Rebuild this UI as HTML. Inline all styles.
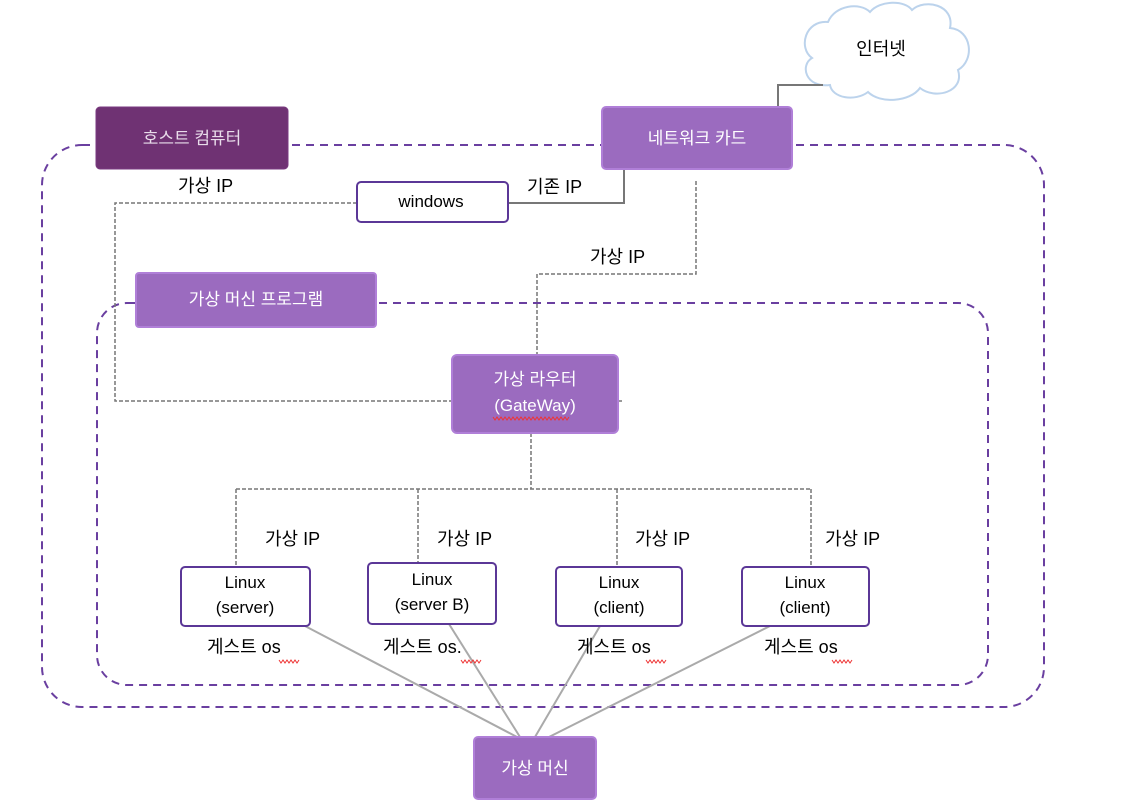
<!DOCTYPE html>
<html><head><meta charset="utf-8"><style>
html,body{margin:0;padding:0;background:#fff;}
svg text{font-family:"Liberation Sans","Noto Sans CJK KR",sans-serif;}
</style></head><body>
<svg width="1142" height="804" viewBox="0 0 1142 804" xmlns="http://www.w3.org/2000/svg">
<!-- cloud -->
<path d="M830,85 C805,88 800,65 812,58 C798,48 805,20 828,22 C835,5 860,2 870,12 C880,0 905,0 912,10 C925,-2 955,5 950,28 C972,30 975,60 958,70 C965,92 935,100 920,88 C910,102 880,104 868,92 C855,102 832,98 830,85 Z" fill="#fff" stroke="#bcd3ec" stroke-width="2"/>
<text x="881" y="55" font-size="18" text-anchor="middle" fill="#000">인터넷</text>
<!-- solid gray connectors -->
<polyline points="778,107 778,85 823,85" fill="none" stroke="#777" stroke-width="2"/>
<polyline points="624,169 624,203 508,203" fill="none" stroke="#777" stroke-width="2"/>
<!-- outer dashed containers -->
<rect x="42" y="145" width="1002" height="562" rx="40" fill="none" stroke="#6a3fa0" stroke-width="2" stroke-dasharray="8,6"/>
<rect x="97" y="303" width="891" height="382" rx="30" fill="none" stroke="#6a3fa0" stroke-width="2" stroke-dasharray="8,6"/>
<!-- gray dashed -->
<g fill="none" stroke="#777" stroke-width="1.5" stroke-dasharray="4,2">
<polyline points="357,203 115,203 115,401 452,401"/>
<line x1="618" y1="401" x2="622" y2="401"/>
<polyline points="696,181 696,274 537,274 537,355"/>
<line x1="531" y1="433" x2="531" y2="489"/>
<line x1="236" y1="489" x2="811" y2="489"/>
<line x1="236" y1="489" x2="236" y2="567"/>
<line x1="418" y1="489" x2="418" y2="563"/>
<line x1="617" y1="489" x2="617" y2="567"/>
<line x1="811" y1="489" x2="811" y2="567"/>
</g>
<!-- boxes -->
<rect x="96" y="107" width="192" height="62" rx="4" fill="#6f3273" stroke="#7a3a80"/>
<text x="192" y="144" font-size="17" fill="#e8dcea" text-anchor="middle">호스트 컴퓨터</text>
<rect x="602" y="107" width="190" height="62" rx="4" fill="#9b6bbf" stroke="#b07fd8" stroke-width="2"/>
<text x="697" y="144" font-size="17" fill="#fff" text-anchor="middle">네트워크 카드</text>
<rect x="357" y="182" width="151" height="40" rx="4" fill="#fff" stroke="#5b3797" stroke-width="2"/>
<text x="431" y="207" font-size="17" text-anchor="middle">windows</text>
<rect x="136" y="273" width="240" height="54" rx="3" fill="#9b6bbf" stroke="#b07fd8" stroke-width="2"/>
<text x="256" y="305" font-size="17" fill="#fff" text-anchor="middle">가상 머신 프로그램</text>
<rect x="452" y="355" width="166" height="78" rx="5" fill="#9b6bbf" stroke="#b07fd8" stroke-width="2"/>
<text x="535" y="385" font-size="17" fill="#fff" text-anchor="middle">가상 라우터</text>
<text x="535" y="411" font-size="17" fill="#fff" text-anchor="middle">(GateWay)</text>
<path d="M493,417 l2,3 l2,-3 l2,3 l2,-3 l2,3 l2,-3 l2,3 l2,-3 l2,3 l2,-3 l2,3 l2,-3 l2,3 l2,-3 l2,3 l2,-3 l2,3 l2,-3 l2,3 l2,-3 l2,3 l2,-3 l2,3 l2,-3 l2,3 l2,-3 l2,3 l2,-3 l2,3 l2,-3 l2,3 l2,-3 l2,3 l2,-3 l2,3 l2,-3 l2,3 l2,-3" fill="none" stroke="#e33" stroke-width="1"/>
<!-- gray solid to VM -->
<g stroke="#aaa" stroke-width="2">
<line x1="305" y1="626" x2="517" y2="737"/>
<line x1="449" y1="624" x2="520" y2="737"/>
<line x1="600" y1="626" x2="535" y2="737"/>
<line x1="770" y1="626" x2="549" y2="737"/>
</g>
<g fill="#fff" stroke="#5b3797" stroke-width="2">
<rect x="181" y="567" width="129" height="59" rx="4"/>
<rect x="368" y="563" width="128" height="61" rx="4"/>
<rect x="556" y="567" width="126" height="59" rx="4"/>
<rect x="742" y="567" width="127" height="59" rx="4"/>
</g>
<g font-size="17" text-anchor="middle">
<text x="245" y="588">Linux</text><text x="245" y="613">(server)</text>
<text x="432" y="585">Linux</text><text x="432" y="610">(server B)</text>
<text x="619" y="588">Linux</text><text x="619" y="613">(client)</text>
<text x="805" y="588">Linux</text><text x="805" y="613">(client)</text>
</g>
<rect x="474" y="737" width="122" height="62" rx="4" fill="#9b6bbf" stroke="#b07fd8" stroke-width="2"/>
<text x="535" y="774" font-size="17" fill="#fff" text-anchor="middle">가상 머신</text>
<!-- labels -->
<g font-size="18" fill="#000">
<text x="178" y="192">가상 IP</text>
<text x="527" y="193">기존 IP</text>
<text x="590" y="263">가상  IP</text>
<text x="265" y="545">가상 IP</text>
<text x="437" y="545">가상 IP</text>
<text x="635" y="545">가상 IP</text>
<text x="825" y="545">가상 IP</text>
<text x="207" y="653">게스트 os</text>
<text x="383" y="653">게스트 os.</text>
<text x="577" y="653">게스트 os</text>
<text x="764" y="653">게스트 os</text>
</g>
<g fill="none" stroke="#e33" stroke-width="1">
<path d="M279,660 l2,3 l2,-3 l2,3 l2,-3 l2,3 l2,-3 l2,3 l2,-3 l2,3 l2,-3"/>
<path d="M461,660 l2,3 l2,-3 l2,3 l2,-3 l2,3 l2,-3 l2,3 l2,-3 l2,3 l2,-3"/>
<path d="M646,660 l2,3 l2,-3 l2,3 l2,-3 l2,3 l2,-3 l2,3 l2,-3 l2,3 l2,-3"/>
<path d="M832,660 l2,3 l2,-3 l2,3 l2,-3 l2,3 l2,-3 l2,3 l2,-3 l2,3 l2,-3"/>
</g>
</svg>
</body></html>
